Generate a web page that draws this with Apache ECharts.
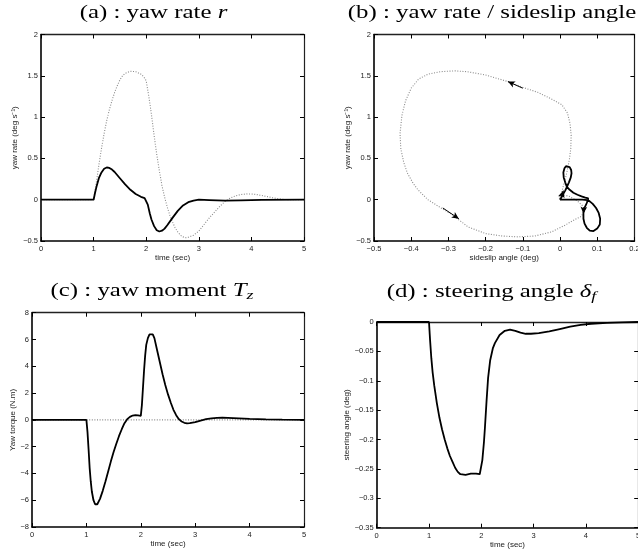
<!DOCTYPE html>
<html>
<head>
<meta charset="utf-8">
<script src="https://cdn.jsdelivr.net/npm/echarts@6/dist/echarts.min.js"></script>
<style>
  html, body { margin: 0; padding: 0; background: #fff; }
  #chart { width: 638px; height: 554px; }
</style>
</head>
<body>
<div id="chart"></div>
<script>
// (a) yaw rate r over time: controlled (solid) and uncontrolled (dotted)
const tYawCtrl = [0, 1.0, 1.03, 1.06, 1.1, 1.15, 1.2, 1.25, 1.3, 1.35, 1.4, 1.5, 1.6, 1.7, 1.8, 1.9, 1.97, 2.0, 2.03, 2.07,
  2.1, 2.15, 2.2, 2.25, 2.3, 2.35, 2.4, 2.5, 2.6, 2.7, 2.8, 2.9, 3.0, 3.2, 3.5, 3.8, 4.2, 5];
const yawCtrl = [0, 0, 0.09, 0.17, 0.26, 0.33, 0.375, 0.39, 0.385, 0.365, 0.335, 0.26, 0.185, 0.12, 0.07, 0.035, 0.02, 0.015, -0.06, -0.17,
  -0.24, -0.32, -0.37, -0.385, -0.375, -0.35, -0.31, -0.22, -0.135, -0.07, -0.03, -0.01, 0, -0.005, -0.012, -0.008, -0.003, 0];
const tYawFree = [0, 1.0, 1.05, 1.1, 1.15, 1.2, 1.25, 1.3, 1.35, 1.4, 1.45, 1.5, 1.55, 1.6, 1.7, 1.8, 1.9, 1.95, 2.0, 2.05,
  2.1, 2.15, 2.2, 2.25, 2.3, 2.35, 2.4, 2.45, 2.5, 2.55, 2.6, 2.65, 2.7, 2.75, 2.8, 2.9, 3.0, 3.1, 3.2, 3.3,
  3.4, 3.5, 3.6, 3.7, 3.8, 3.9, 4.0, 4.1, 4.2, 4.3, 4.4, 4.5, 4.6, 4.7, 5];
const yawFree = [0, 0, 0.2, 0.42, 0.62, 0.8, 0.96, 1.09, 1.2, 1.3, 1.38, 1.45, 1.5, 1.53, 1.555, 1.55, 1.52, 1.49, 1.44, 1.25,
  1.03, 0.78, 0.55, 0.35, 0.17, 0.03, -0.09, -0.19, -0.27, -0.34, -0.39, -0.43, -0.45, -0.46, -0.455, -0.43, -0.38, -0.3, -0.22, -0.15,
  -0.08, -0.02, 0.02, 0.047, 0.062, 0.07, 0.069, 0.062, 0.05, 0.037, 0.024, 0.013, 0.005, 0, 0];

// (b) phase portrait: sideslip angle vs yaw rate
const slipFree = [0, 0.008, 0.018, 0.025, 0.029, 0.03, 0.027, 0.02, 0.005, -0.023, -0.06, -0.1, -0.14, -0.2, -0.25,
  -0.283, -0.32, -0.355, -0.38, -0.4, -0.415, -0.425, -0.43, -0.428, -0.42, -0.41, -0.395, -0.382, -0.355, -0.32,
  -0.29, -0.247, -0.2, -0.155, -0.113, -0.068, -0.023, 0.013, 0.04, 0.058, 0.065, 0.06, 0.045, 0.025, 0.008, -0.003, 0];
const slipYawFree = [0, 0.15, 0.32, 0.48, 0.62, 0.78, 0.92, 1.05, 1.15, 1.22, 1.3, 1.36, 1.43, 1.51, 1.55,
  1.56, 1.55, 1.52, 1.46, 1.35, 1.2, 1.02, 0.8, 0.62, 0.45, 0.32, 0.2, 0.12, 0.0, -0.1,
  -0.18, -0.33, -0.41, -0.44, -0.45, -0.44, -0.39, -0.31, -0.24, -0.2, -0.13, -0.07, -0.01, 0.04, 0.06, 0.04, 0];
const slipCtrl = [0, 0.004, 0.009, 0.014, 0.018, 0.024, 0.029, 0.031, 0.03, 0.026, 0.021, 0.016, 0.012, 0.009, 0.01,
  0.014, 0.018, 0.026, 0.036, 0.047, 0.058, 0.068, 0.076, 0.072, 0.066, 0.063, 0.063, 0.066, 0.072, 0.08,
  0.09, 0.1, 0.107, 0.108, 0.104, 0.097, 0.088, 0.08, 0.074, 0.06, 0.045, 0.03, 0.015, 0.005, 0];
const slipYawCtrl = [0, 0.03, 0.07, 0.11, 0.15, 0.21, 0.27, 0.32, 0.36, 0.395, 0.41, 0.405, 0.38, 0.33, 0.27,
  0.21, 0.16, 0.12, 0.085, 0.06, 0.04, 0.025, 0.015, -0.04, -0.1, -0.16, -0.23, -0.29, -0.34, -0.375,
  -0.38, -0.35, -0.3, -0.23, -0.16, -0.1, -0.05, -0.02, -0.005, 0, 0, 0, 0, 0, 0];
// direction arrows along the trajectories: [sideslip, yaw rate] tail and head
const arrowTails = [[-0.1, 1.35], [-0.315, -0.1], [0.004, 0.035], [0.064, -0.09]];
const arrowHeads = [[-0.14, 1.43], [-0.272, -0.23], [0.009, 0.11], [0.063, -0.17]];

// (c) yaw moment T_z
const tMoment = [0, 1.0, 1.02, 1.04, 1.06, 1.08, 1.1, 1.13, 1.16, 1.18, 1.2, 1.25, 1.3, 1.35, 1.4, 1.45, 1.5, 1.55, 1.6, 1.65,
  1.7, 1.75, 1.8, 1.85, 1.9, 1.95, 2.0, 2.02, 2.04, 2.06, 2.08, 2.1, 2.13, 2.16, 2.19, 2.22, 2.25, 2.3, 2.35, 2.4,
  2.45, 2.5, 2.55, 2.6, 2.65, 2.7, 2.75, 2.8, 2.85, 2.9, 3.0, 3.1, 3.2, 3.3, 3.4, 3.5, 3.6, 3.8, 4.0, 4.3, 4.6, 5];
const moment = [0, 0, -0.9, -2.2, -3.6, -4.6, -5.35, -6.0, -6.3, -6.37, -6.3, -5.9, -5.3, -4.6, -3.85, -3.1, -2.4, -1.78, -1.2, -0.7,
  -0.25, 0.05, 0.22, 0.32, 0.35, 0.33, 0.3, 1.1, 2.4, 3.7, 4.8, 5.6, 6.1, 6.38, 6.45, 6.38, 6.1, 5.2, 4.3, 3.4,
  2.6, 1.9, 1.3, 0.75, 0.35, 0.05, -0.12, -0.22, -0.26, -0.25, -0.17, -0.05, 0.05, 0.11, 0.15, 0.16, 0.15, 0.11, 0.07, 0.03, 0.01, 0];
const tMomentFree = [0, 5];
const momentFree = [0, 0];

// (d) steering angle delta_f
const tSteer = [0, 1.0, 1.02, 1.045, 1.07, 1.1, 1.15, 1.2, 1.25, 1.3, 1.35, 1.4, 1.45, 1.5, 1.55, 1.6, 1.7, 1.8, 1.9, 1.97,
  2.0, 2.02, 2.05, 2.07, 2.1, 2.13, 2.17, 2.22, 2.26, 2.35, 2.45, 2.55, 2.65, 2.75, 2.85, 2.95, 3.1, 3.3, 3.5, 3.7,
  3.9, 4.1, 4.4, 4.7, 5];
const steer = [0, 0, -0.03, -0.062, -0.086, -0.108, -0.138, -0.163, -0.183, -0.2, -0.215, -0.228, -0.238, -0.248, -0.255, -0.259, -0.26, -0.258, -0.258, -0.259,
  -0.259, -0.235, -0.205, -0.179, -0.135, -0.095, -0.065, -0.045, -0.036, -0.022, -0.015, -0.013, -0.015, -0.018, -0.02, -0.02, -0.019, -0.016, -0.012, -0.008,
  -0.005, -0.003, -0.0015, -0.0005, 0];

// axis ranges [min, max, interval] and labels for each panel
const xRanges = [[0, 5, 1], [-0.5, 0.2, 0.1], [0, 5, 1], [0, 5, 1]];
const yRanges = [[-0.5, 2, 0.5], [-0.5, 2, 0.5], [-8, 8, 2], [-0.35, 0, 0.05]];
const xNames = ['time (sec)', 'sideslip angle (deg)', 'time (sec)', 'time (sec)'];
const yNames = ['yaw rate (deg s\u207B\u00B9)', 'yaw rate (deg s\u207B\u00B9)', 'Yaw torque (N.m)', 'steering angle (deg)'];

const zip = (a, b) => a.map((v, i) => [v, b[i]]);
const sans = '"Liberation Sans", Arial, Helvetica, sans-serif';
const serif = '"Liberation Serif", "Times New Roman", serif';
const fmt = v => {
  const r = Math.round(v * 1000) / 1000;
  return r < 0 ? '\u2212' + Math.abs(r) : String(r);
};

const grids = [
  { left: 41, top: 34.5, width: 263, height: 206.5 },
  { left: 374, top: 34.5, width: 260.4, height: 206.5 },
  { left: 32, top: 312.7, width: 272, height: 214.3 },
  { left: 376.7, top: 322, width: 261.5, height: 205.7 }
].map(g => Object.assign({ outerBoundsMode: 'none', containLabel: false }, g));

const xNameGaps = [7, 7, 12, 12];
const yNameGaps = [21, 20, 15, 25];

const xAxes = [], yAxes = [];
grids.forEach((g, i) => {
  const [xmin, xmax, xint] = xRanges[i];
  const [ymin, ymax, yint] = yRanges[i];
  const tick = { show: true, inside: true, length: 4, lineStyle: { color: '#000', width: 1 } };
  const label = { show: true, fontSize: 7.5, fontFamily: sans, color: '#222', margin: 4, formatter: fmt,
    showMinLabel: true, showMaxLabel: true };
  xAxes.push({
    type: 'value', gridIndex: i, position: 'bottom', min: xmin, max: xmax, interval: xint,
    axisLine: { show: true, onZero: false, lineStyle: { color: '#000', width: 1.6 } },
    axisTick: tick, axisLabel: label, splitLine: { show: false },
    name: xNames[i], nameLocation: 'middle', nameGap: xNameGaps[i],
    nameTextStyle: { fontSize: 8, fontFamily: sans, color: '#222' }
  });
  xAxes.push({
    type: 'value', gridIndex: i, position: 'top', min: xmin, max: xmax, interval: xint,
    axisLine: { show: true, onZero: false, lineStyle: { color: '#222', width: 1.4 } },
    axisTick: tick, axisLabel: { show: false }, splitLine: { show: false }
  });
  yAxes.push({
    type: 'value', gridIndex: i, position: 'left', min: ymin, max: ymax, interval: yint,
    axisLine: { show: true, onZero: false, lineStyle: { color: '#000', width: 1.6 } },
    axisTick: tick, axisLabel: Object.assign({}, label, { margin: 3 }), splitLine: { show: false },
    name: yNames[i], nameLocation: 'middle', nameGap: yNameGaps[i],
    nameTextStyle: { fontSize: 8, fontFamily: sans, color: '#222' }
  });
  yAxes.push({
    type: 'value', gridIndex: i, position: 'right', min: ymin, max: ymax, interval: yint,
    axisLine: { show: true, onZero: false, lineStyle: { color: '#222', width: 1.2 } },
    axisTick: tick, axisLabel: { show: false }, splitLine: { show: false }
  });
});

const solid = { color: '#000', width: 1.8, type: 'solid' };
const dotted = { color: '#8a8a8a', width: 1.1, type: [1, 1.6] };
const line = (g, data, style, z) => ({
  type: 'line', xAxisIndex: 2 * g, yAxisIndex: 2 * g, data, showSymbol: false, symbol: 'none',
  lineStyle: style, silent: true, animation: false, z: z, clip: true
});

const arrowMarks = {
  silent: true, animation: false, symbol: ['none', 'arrow'], symbolSize: [5, 7],
  lineStyle: { color: '#000', width: 1, type: 'solid' }, label: { show: false },
  emphasis: { disabled: true },
  data: arrowTails.map((p, k) => [{ coord: p }, { coord: arrowHeads[k] }])
};

const series = [
  line(0, zip(tYawFree, yawFree), dotted, 2),
  line(0, zip(tYawCtrl, yawCtrl), solid, 3),
  line(1, zip(slipFree, slipYawFree), dotted, 2),
  Object.assign(line(1, zip(slipCtrl, slipYawCtrl), solid, 3), { markLine: arrowMarks }),
  line(2, zip(tMomentFree, momentFree), dotted, 2),
  line(2, zip(tMoment, moment), solid, 3),
  line(3, zip(tSteer, steer), solid, 3)
];

// panel captions, set in a wide serif face
const richBase = {
  n: { fontFamily: serif, fontSize: 18, fill: '#000', lineHeight: 22 },
  i: { fontFamily: serif, fontSize: 18, fontStyle: 'italic', fill: '#000', lineHeight: 22 },
  s: { fontFamily: serif, fontSize: 13, fontStyle: 'italic', fill: '#000', lineHeight: 8, verticalAlign: 'bottom' }
};
const caption = (x, y, text) => ({
  type: 'text', x, y, scaleX: 1.38, silent: true,
  style: { text, rich: richBase, fill: '#000', font: '18px ' + serif,
    align: 'center', verticalAlign: 'middle', textAlign: 'center', textVerticalAlign: 'middle' }
});

const chart = echarts.init(document.getElementById('chart'), null, { renderer: 'canvas' });
chart.setOption({
  animation: false,
  backgroundColor: '#fff',
  grid: grids,
  xAxis: xAxes,
  yAxis: yAxes,
  series,
  graphic: [
    caption(153.5, 13, '{n|(a) : yaw rate }{i|r}'),
    caption(492, 13, '{n|(b) : yaw rate / sideslip angle}'),
    caption(152, 291, '{n|(c) : yaw moment }{i|T}{s|z}'),
    caption(491.5, 292, '{n|(d) : steering angle }{i|\u03B4}{s|f}')
  ]
});
</script>
</body>
</html>
